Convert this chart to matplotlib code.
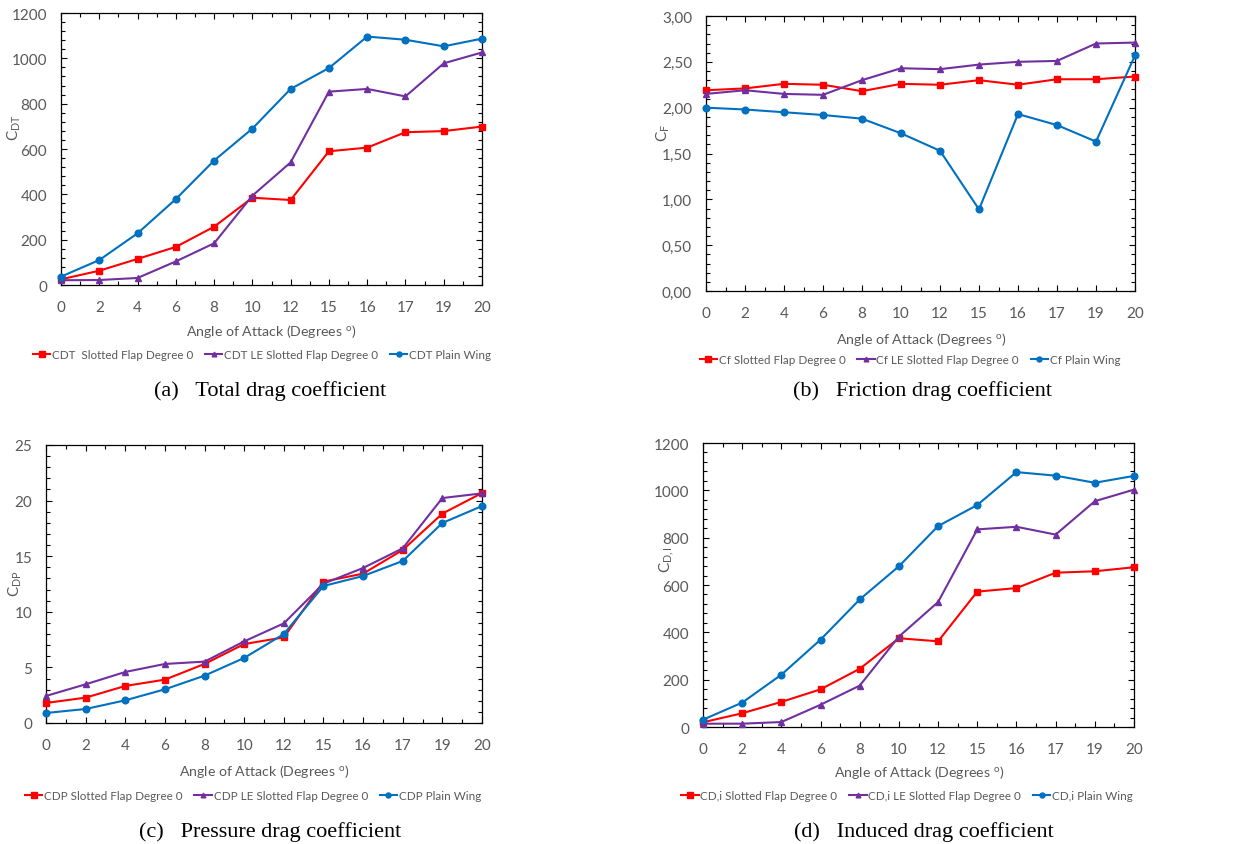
import matplotlib
matplotlib.use("Agg")
import matplotlib.pyplot as plt
from matplotlib.ticker import FixedLocator, MultipleLocator, FuncFormatter

plt.rcParams['font.family'] = ['Lato', 'DejaVu Sans']
plt.rcParams['mathtext.default'] = 'regular'

angles = ["0", "2", "4", "6", "8", "10", "12", "15", "16", "17", "19", "20"]

# (a) Total drag coefficient
cdt_slotted = [25, 63, 115, 168, 257, 385, 375, 590, 606, 674, 679, 699]
cdt_le = [21, 22, 31, 104, 184, 394, 541, 853, 865, 832, 978, 1026]
cdt_plain = [37, 110, 228, 379, 549, 690, 865, 957, 1096, 1082, 1053, 1087]

# (b) Friction drag coefficient
cf_slotted = [2.19, 2.21, 2.26, 2.25, 2.18, 2.26, 2.25, 2.30, 2.25, 2.31, 2.31, 2.34]
cf_le = [2.15, 2.19, 2.15, 2.14, 2.30, 2.43, 2.42, 2.47, 2.50, 2.51, 2.70, 2.71]
cf_plain = [2.00, 1.98, 1.95, 1.92, 1.88, 1.72, 1.53, 0.89, 1.93, 1.81, 1.63, 2.57]

# (c) Pressure drag coefficient
cdp_slotted = [1.80, 2.28, 3.33, 3.90, 5.31, 7.10, 7.70, 12.71, 13.43, 15.56, 18.83, 20.68]
cdp_le = [2.43, 3.48, 4.59, 5.31, 5.52, 7.34, 8.96, 12.53, 13.94, 15.71, 20.23, 20.65]
cdp_plain = [0.90, 1.26, 2.04, 3.03, 4.26, 5.85, 8.00, 12.32, 13.22, 14.57, 17.99, 19.51]

# (d) Induced drag coefficient
cdi_slotted = [20, 58, 106, 159, 246, 375, 362, 572, 587, 652, 658, 675]
cdi_le = [14, 14, 21, 94, 175, 382, 528, 835, 846, 813, 954, 1003]
cdi_plain = [31, 103, 221, 369, 539, 679, 849, 938, 1077, 1062, 1032, 1061]

W, H = 1247, 845
fig = plt.figure(figsize=(W / 100, H / 100), dpi=100)

RED = '#FF0000'
PURPLE = '#7030A0'
BLUE = '#0070C0'
GRAY = '#595959'


def fx(x):
    return x / W


def fy(y):
    return 1 - y / H


def make_panel(box, series, labels, ymax, ymajor, yminor, fmt, ylabel, ylabel_xy,
               xlabel_xy, legend_xy, caption, caption_xy):
    l, r, t, b = box
    ax = fig.add_axes([fx(l), fy(b), fx(r - l), (b - t) / H])
    xs = list(range(len(angles)))
    styles = [(RED, 's', 5), (PURPLE, '^', 4.5), (BLUE, 'o', 4.8)]
    handles = []
    for vals, (c, m, ms), lab in zip(series, styles, labels):
        h, = ax.plot(xs, vals, color=c, marker=m, markersize=ms, lw=1.5, label=lab,
                     clip_on=False, zorder=3)
        handles.append(h)
    ax.set_xlim(0, len(angles) - 1)
    ax.set_ylim(0, ymax)
    ax.xaxis.set_major_locator(FixedLocator(xs))
    ax.xaxis.set_minor_locator(FixedLocator([x + 0.5 for x in xs[:-1]]))
    ax.set_xticklabels(angles)
    ax.yaxis.set_major_locator(MultipleLocator(ymajor))
    ax.yaxis.set_minor_locator(MultipleLocator(yminor))
    ax.yaxis.set_major_formatter(FuncFormatter(fmt))
    ax.tick_params(which='both', direction='in', top=True, right=True,
                   colors='black', labelcolor=GRAY, labelsize=11, width=0.8)
    ax.tick_params(which='major', length=4)
    ax.tick_params(which='minor', length=3)
    ax.tick_params(axis='x', pad=11)
    ax.tick_params(axis='y', pad=10)
    for s in ax.spines.values():
        s.set_color('black')
        s.set_linewidth(0.9)
    fig.text(fx(ylabel_xy[0]), fy(ylabel_xy[1]), ylabel, rotation=90, ha='center',
             va='center', color=GRAY, fontsize=11)
    fig.text(fx(xlabel_xy[0]), fy(xlabel_xy[1]), "Angle of Attack (Degrees $^{o}$)",
             ha='center', va='center', color=GRAY, fontsize=10.2)
    fig.legend(handles=handles, loc='center',
               bbox_to_anchor=(fx(legend_xy[0]), fy(legend_xy[1])), ncol=3,
               frameon=False, fontsize=8.4, handlelength=1.5, handletextpad=0.15,
               columnspacing=1.0, labelcolor=GRAY, markerscale=0.75)
    fig.text(fx(caption_xy[0]), fy(caption_xy[1]), caption, ha='center', va='center',
             fontsize=16, family='Liberation Serif', color='black')
    return ax


int_fmt = lambda v, p: f"{v:.0f}"
comma_fmt = lambda v, p: f"{v:.2f}".replace('.', ',')

make_panel((61, 482, 14, 286), [cdt_slotted, cdt_le, cdt_plain],
           ["CDT  Slotted Flap Degree 0", "CDT LE Slotted Flap Degree 0", "CDT Plain Wing"],
           1200, 200, 40, int_fmt, "C$_{DT}$", (14, 128), (271, 332), (262, 356),
           "(a)   Total drag coefficient", (270, 391))

make_panel((706, 1135, 17, 292), [cf_slotted, cf_le, cf_plain],
           ["Cf Slotted Flap Degree 0", "Cf LE Slotted Flap Degree 0", "Cf Plain Wing"],
           3.0, 0.5, 0.1, comma_fmt, "C$_{F}$", (663, 133), (921, 340), (910, 361),
           "(b)   Friction drag coefficient", (923, 391))

make_panel((46, 482, 446, 724), [cdp_slotted, cdp_le, cdp_plain],
           ["CDP Slotted Flap Degree 0", "CDP LE Slotted Flap Degree 0", "CDP Plain Wing"],
           25, 5, 1, int_fmt, "C$_{DP}$", (15, 584), (264, 772), (253, 797),
           "(c)   Pressure drag coefficient", (270, 832))

make_panel((703, 1134, 444, 728), [cdi_slotted, cdi_le, cdi_plain],
           ["CD,i Slotted Flap Degree 0", "CD,i LE Slotted Flap Degree 0", "CD,i Plain Wing"],
           1200, 200, 40, int_fmt, "C$_{D,I}$", (667, 560), (919, 773), (907, 797),
           "(d)   Induced drag coefficient", (924, 832))

fig.savefig("out.png", dpi=100)
